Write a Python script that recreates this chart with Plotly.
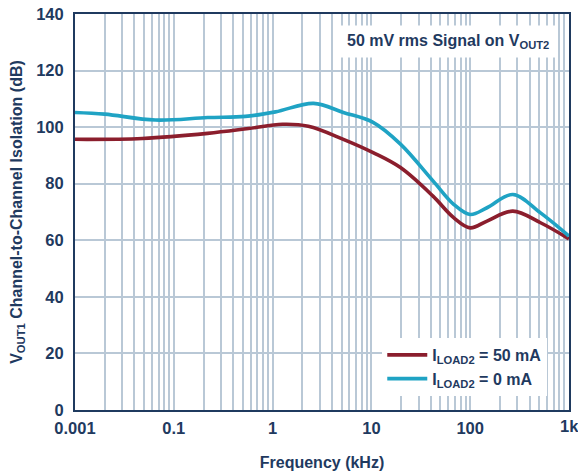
import plotly.graph_objects as go
import math

# Frequency axis (kHz positions on the log axis)
freq_cyan = [0.01, 0.02, 0.065, 0.22, 0.53, 1.07, 2.6, 5.2, 10.4, 19.7, 42, 68, 100, 148, 270, 515, 1000]
iso_cyan = [105.2, 104.6, 102.5, 103.4, 103.8, 105.4, 108.4, 105.2, 101.7, 94, 81, 72.7, 69.1, 71.5, 76.2, 69.7, 61.5]

freq_red = [0.01, 0.048, 0.22, 0.57, 1.26, 2.3, 5.2, 10.4, 19.7, 42, 68, 100, 148, 270, 515, 1000]
iso_red = [95.7, 96.0, 97.8, 99.5, 101.0, 100.3, 95.7, 91.0, 85.7, 75.6, 68.0, 64.4, 66.8, 70.3, 66.2, 60.5]

decades = [0.01, 0.1, 1, 10, 100, 1000]
decade_labels = ["0.001", "0.1", "1", "10", "100", "1k"]
y_ticks = [0, 20, 40, 60, 80, 100, 120, 140]

navy = "#1F3A5F"
grid = "#B9C8D6"
red = "#8B1E2D"
cyan = "#1FA3C4"

tickvals = []
ticktext = []
for d, lab in zip(decades, decade_labels):
    tickvals.append(d)
    # last label sits on the figure edge; drawn as annotation so it isn't culled
    ticktext.append(lab if d != decades[-1] else "")
    if d < 1000:
        for m in range(2, 10):
            tickvals.append(d * m)
            ticktext.append("")

fig = go.Figure()
fig.add_trace(go.Scatter(x=freq_red, y=iso_red, mode="lines",
                         line=dict(color=red, width=3.6, shape="spline", smoothing=1.0),
                         name="I<sub>LOAD2</sub> = 50 mA"))
fig.add_trace(go.Scatter(x=freq_cyan, y=iso_cyan, mode="lines",
                         line=dict(color=cyan, width=3.6, shape="spline", smoothing=1.0),
                         name="I<sub>LOAD2</sub> = 0 mA"))

font_fam = "Liberation Sans, Arial, sans-serif"
tick_font = dict(size=16.5, family=font_fam, color=navy, weight="bold")

fig.update_layout(
    width=578, height=471,
    margin=dict(l=75, r=9, t=14, b=61),
    plot_bgcolor="white", paper_bgcolor="white",
    font=dict(family=font_fam, color=navy, size=16, weight="bold"),
    xaxis=dict(type="log", range=[-2, 3], tickvals=tickvals, ticktext=ticktext, automargin=False,
               showgrid=True, gridcolor=grid, gridwidth=1.5, ticks="", showline=True, linecolor=navy, linewidth=2,
               mirror=True, zeroline=False, ticklabelstandoff=2,
               tickfont=tick_font,
               title=dict(text="Frequency (kHz)", font=dict(size=16, family=font_fam, color=navy, weight="bold"), standoff=24)),
    yaxis=dict(range=[0, 140], tickvals=y_ticks, automargin=False,
               showgrid=True, gridcolor=grid, gridwidth=1.5, ticks="", showline=True, linecolor=navy, linewidth=2,
               mirror=True, zeroline=False, ticklabelstandoff=6,
               tickfont=tick_font,
               title=dict(text="V<sub>OUT1</sub> Channel-to-Channel Isolation (dB)",
                          font=dict(size=16, family=font_fam, color=navy, weight="bold"), standoff=10)),
    legend=dict(x=0.622, y=0.182, xanchor="left", yanchor="top", bgcolor="white",
                font=dict(size=16, family=font_fam, color=navy, weight="bold"),
                tracegroupgap=0, itemwidth=40),
    annotations=[
        dict(text="50 mV rms Signal on V<sub>OUT2</sub>", xref="paper", yref="paper",
             x=0.974, y=0.972, xanchor="right", yanchor="top", showarrow=False,
             bgcolor="white", borderpad=6,
             font=dict(size=16, family=font_fam, color=navy, weight="bold")),
        dict(text=decade_labels[-1], xref="x", yref="paper", x=math.log10(decades[-1]), y=0,
             xanchor="center", yanchor="top", yshift=-5, showarrow=False, font=tick_font),
    ],
)

fig.write_html("out.html")
